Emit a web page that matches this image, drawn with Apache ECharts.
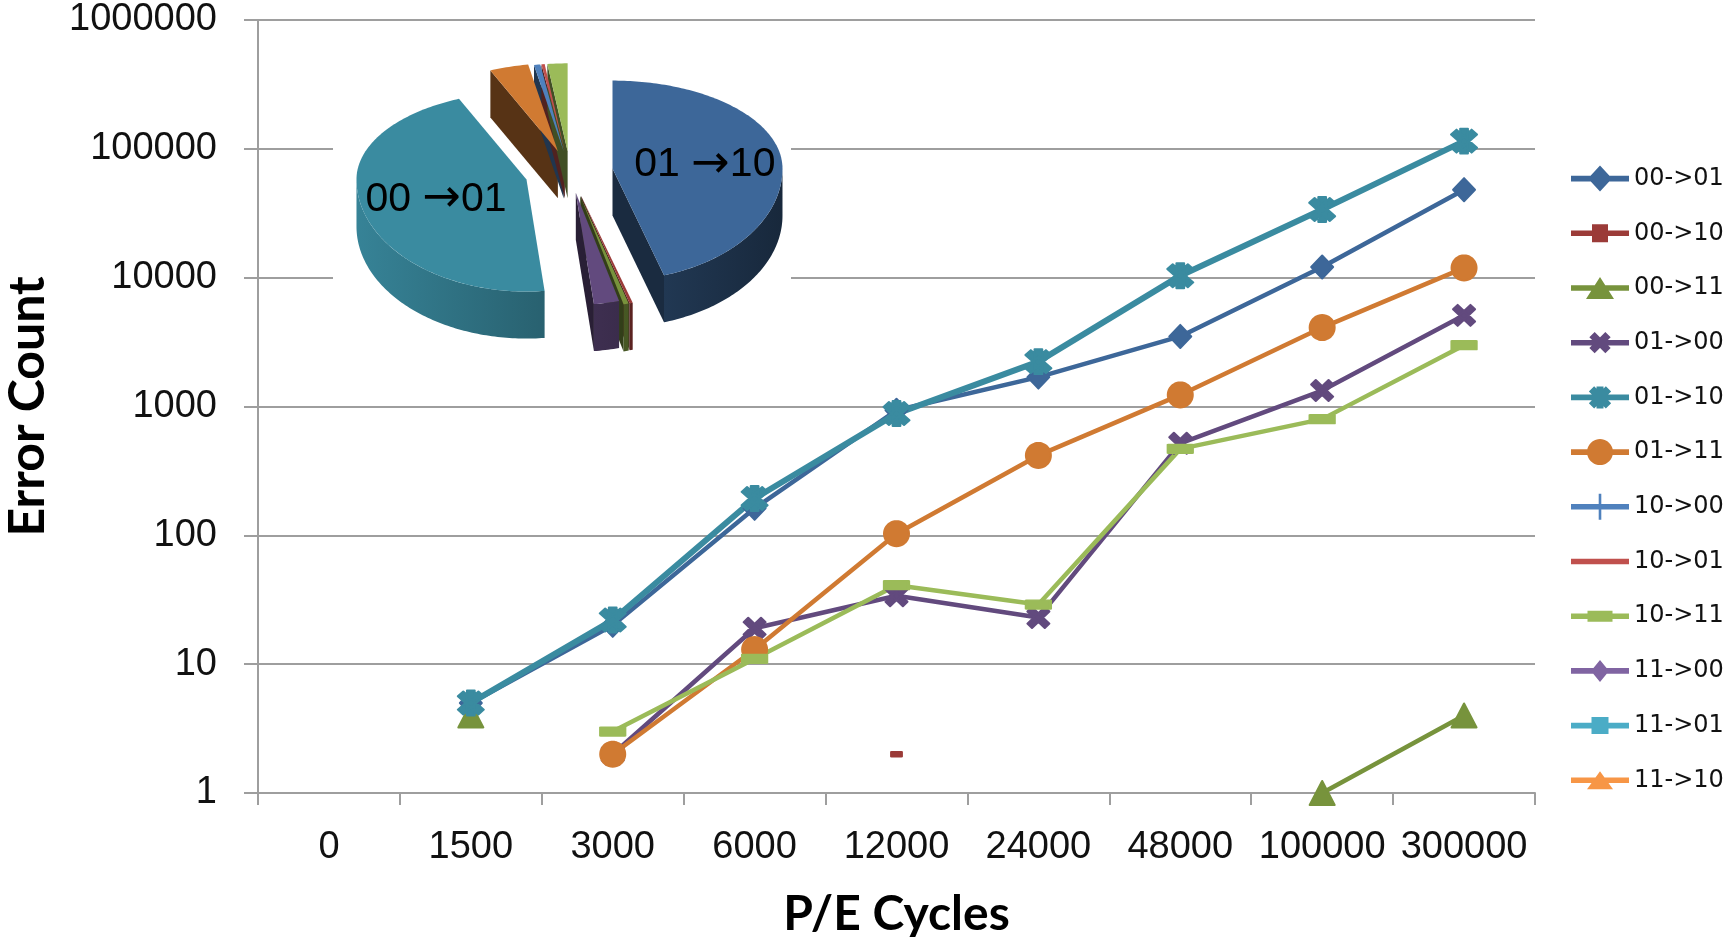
<!DOCTYPE html>
<html><head><meta charset="utf-8">
<script src="https://cdn.jsdelivr.net/npm/echarts@6/dist/echarts.min.js"></script>
<style>html,body{margin:0;padding:0;background:#fff}#c{width:1729px;height:937px}</style>
</head><body><div id="c"></div>
<script>
// ---------------- DATA ----------------
const categories = ['0', '1500', '3000', '6000', '12000', '24000', '48000', '100000', '300000'];
const seriesNames = ['00->01', '00->10', '00->11', '01->00', '01->10', '01->11', '10->00', '10->01', '10->11', '11->00', '11->01', '11->10'];
const s0001 = [null, 5, 20, 162, 935, 1690, 3500, 12100, 48200];
const s0010 = [null, null, null, null, 2, null, null, null, null];
const s0011 = [null, 4, null, null, null, null, null, 1, 4];
const s0100 = [null, null, 2, 19, 34, 23, 518, 1330, 5100];
const s0110 = [null, 5, 22, 193, 881, 2230, 10360, 33800, 114800];
const s0111 = [null, null, 2, 13, 103, 417, 1230, 4100, 11900];
const s1000 = [null, null, null, null, null, null, null, null, null];
const s1001 = [null, null, null, null, null, null, null, null, null];
const s1011 = [null, null, 3, 11, 41, 29, 469, 798, 2990];
const s1100 = [null, null, null, null, null, null, null, null, null];
const s1101 = [null, null, null, null, null, null, null, null, null];
const s1110 = [null, null, null, null, null, null, null, null, null];
// pie (share of errors, percent), same order as seriesNames
const pieValues = [45.1, 0.3, 0.5, 2.4, 45.2, 3.7, 0.6, 0.3, 1.9, 0, 0, 0];
const pieLabels = ['01 \u219210', '', '', '', '00 \u219201', '', '', '', '', '', '', ''];

// ---------------- STYLE ----------------
const seriesData = [s0001, s0010, s0011, s0100, s0110, s0111, s1000, s1001, s1011, s1100, s1101, s1110];
const colors = ['#3D6799', '#9B3B38', '#77933C', '#624A7E', '#3A8BA0', '#D07A32', '#4F81BD', '#C0504D', '#9BBB59', '#8064A2', '#4BACC6', '#F79646'];
const lineWidths = [4.5, 4.5, 4.5, 4.5, 6, 4.5, 4, 4, 4.5, 4, 4, 4];

function shade(hex, f) {
  const n = parseInt(hex.slice(1), 16);
  const r = (n >> 16) & 255, g = (n >> 8) & 255, b = n & 255;
  return 'rgb(' + Math.round(r * f) + ',' + Math.round(g * f) + ',' + Math.round(b * f) + ')';
}
// marker polygons (centered at 0,0)
function mDiamond(w, h) { return [[[0, -h], [w, 0], [0, h], [-w, 0]]]; }
function mRect(w, h) { return [[[-w, -h], [w, -h], [w, h], [-w, h]]]; }
function mTri(w, h) { return [[[0, -h], [w, h], [-w, h]]]; }
function mX(h, t) {
  const k = t / 2 / Math.SQRT2;
  return [[[-h + k, -h - k], [h + k, h - k], [h - k, h + k], [-h - k, -h + k]],
          [[h + k, -h + k], [-h + k, h + k], [-h - k, h - k], [h - k, -h - k]]];
}
function mStar(h, t, a, b) { return mX(h, t).concat(mRect(a, b)); }
function mCircle(r) { const p = []; for (let k = 0; k < 40; k++) { const t = k / 40 * 2 * Math.PI; p.push([r * Math.cos(t), r * Math.sin(t)]); } return [p]; }
function mPlus(h, t) { return mRect(t, h).concat(mRect(h, t)); }
function toPath(polys) {
  return polys.map(p => 'M' + p.map(q => q[0].toFixed(2) + ',' + q[1].toFixed(2)).join('L') + 'Z').join('');
}
function shift(polys, dx, dy) { return polys.map(p => p.map(q => [q[0] + dx, q[1] + dy])); }

const chartMarkers = [mDiamond(10, 10), mRect(10, 10), mTri(10, 10), mX(8, 6), mStar(8, 6, 3, 11), mCircle(10), mPlus(10, 2), null, mRect(10, 10), mDiamond(10, 10), mRect(10, 10), mTri(10, 10)];
const chartSizes = [[22, 23], [10, 5], [25, 24], [22, 21], [26, 25], [25, 25], [18, 18], 1, [24, 9], [18, 18], [16, 16], [20, 18]];

const LW = 58, LH = 28;
const legendMarkers = [mDiamond(12, 13), mRect(8, 9), mTri(14, 11), mX(8, 7.5), mStar(8.5, 7.5, 3.5, 11), mCircle(13), mRect(1.3, 13), [], mRect(12.5, 5.5), mDiamond(9, 11), mRect(8.5, 8.5), mTri(13, 9)];
function legendIcon(polys) {
  const corners = [[[0, 0], [0.01, 0], [0.01, 0.01]], [[LW, LH], [LW - 0.01, LH], [LW - 0.01, LH - 0.01]]];
  const line = [[[0, LH / 2 - 2.8], [LW, LH / 2 - 2.8], [LW, LH / 2 + 2.8], [0, LH / 2 + 2.8]]];
  return 'path://' + toPath(corners.concat(line, shift(polys, LW / 2, LH / 2)));
}

// ---------------- PIE GEOMETRY (custom series) ----------------
const PIE = { cx: 570, cy: 172, rx: 170, ryB: 88, ryF: 112, depth: 47 };
const pieExplode = [43, 38, 38, 32, 45, 42, 40, 40, 40, 40, 40, 40];
const pieTotal = pieValues.reduce((a, b) => a + b, 0);
const pieCum = [0]; pieValues.forEach(v => pieCum.push(pieCum[pieCum.length - 1] + v));
function ryOf(c) { return c > 0 ? PIE.ryB : PIE.ryF; }
function P(C, th) { const s = Math.sin(th), c = Math.cos(th); return [C[0] + PIE.rx * s, C[1] - ryOf(c) * c]; }
function arcPts(C, a, b) {
  const n = Math.max(2, Math.ceil((b - a) / (Math.PI / 180)));
  const pts = []; for (let k = 0; k <= n; k++) pts.push(P(C, a + (b - a) * k / n));
  return pts;
}
function richLabel(s) {
  const parts = s.split('\u2192');
  return '{d|' + parts[0] + '}{a|\u2192}{d|' + parts[1] + '}';
}
function renderPie(params, api) {
  const i = params.dataIndex; const v = api.value(0);
  if (!(v > 0)) return { type: 'group', children: [] };
  const a0 = pieCum[i] / pieTotal * 2 * Math.PI, a1 = pieCum[i + 1] / pieTotal * 2 * Math.PI, m = (a0 + a1) / 2;
  const e = pieExplode[i];
  const C = [PIE.cx + e * Math.sin(m), PIE.cy - e * Math.cos(m) * ryOf(Math.cos(m)) / PIE.rx];
  const D = PIE.depth; const col = colors[i];
  const down = p => [p[0], p[1] + D];
  const ch = [];
  if (Math.sin(a0) < -1e-6) { const p = P(C, a0); ch.push({ type: 'polygon', z2: 1, shape: { points: [C, p, down(p), down(C)] }, style: { fill: shade(col, 0.42) } }); }
  if (Math.sin(a1) > 1e-6) { const p = P(C, a1); ch.push({ type: 'polygon', z2: 1, shape: { points: [C, p, down(p), down(C)] }, style: { fill: shade(col, 0.42) } }); }
  const w0 = Math.max(a0, Math.PI / 2), w1 = Math.min(a1, 1.5 * Math.PI);
  if (w1 > w0) {
    const top = arcPts(C, w0, w1); const bot = top.map(down).reverse();
    ch.push({ type: 'polygon', z2: 2, shape: { points: top.concat(bot) },
      style: { fill: new echarts.graphic.LinearGradient(PIE.cx - PIE.rx - 50, 0, PIE.cx + PIE.rx + 50, 0,
        [{ offset: 0, color: shade(col, 0.95) }, { offset: 1, color: shade(col, 0.38) }], true) } });
  }
  ch.push({ type: 'polygon', z2: 3, shape: { points: [C].concat(arcPts(C, a0, a1)) }, style: { fill: col } });
  if (pieLabels[i]) {
    const lx = C[0] + 0.55 * PIE.rx * Math.sin(m);
    const ly = C[1] - 0.55 * ryOf(Math.cos(m)) * Math.cos(m) + 4;
    ch.push({ type: 'text', z2: 10, style: {
      text: richLabel(pieLabels[i]), x: lx, y: ly, align: 'center', verticalAlign: 'middle',
      rich: {
        d: { fill: '#000', fontSize: 41, fontFamily: 'Liberation Sans' },
        a: { fill: '#000', fontSize: 46, fontFamily: 'DejaVu Sans' }
      } } });
  }
  return { type: 'group', children: ch };
}

// ---------------- CHART ----------------
const chart = echarts.init(document.getElementById('c'), null, { renderer: 'canvas' });
const axisGray = '#9E9E9E';
const series = seriesNames.map((n, i) => ({
  name: n, type: 'line', data: seriesData[i],
  symbol: chartMarkers[i] ? 'path://' + toPath(chartMarkers[i]) : 'none',
  symbolSize: chartSizes[i], showSymbol: true, showAllSymbol: true, connectNulls: false,
  lineStyle: { color: colors[i], width: lineWidths[i], join: 'round', cap: 'round' },
  itemStyle: { color: colors[i], borderColor: colors[i], borderWidth: 2, borderJoin: 'round' },
  emphasis: { disabled: true }, z: 3
}));
series.push({ type: 'custom', name: 'pie', coordinateSystem: 'none', silent: true, z: 5,
  data: pieValues.map(v => [v]), renderItem: renderPie });

chart.setOption({
  animation: false,
  backgroundColor: '#fff',
  grid: { left: 258, right: 194, top: 20, bottom: 144, containLabel: false, outerBoundsMode: 'none' },
  graphic: [{ type: 'rect', left: 333, top: 42, shape: { width: 458, height: 333 }, style: { fill: '#fff' }, z: 1, silent: true }],
  legend: {
    orient: 'vertical', left: 1571, top: 164.6, itemWidth: LW, itemHeight: LH, itemGap: 26.7, padding: 0,
    data: seriesNames.map((n, i) => ({ name: n, icon: legendIcon(legendMarkers[i]) })),
    textStyle: { fontFamily: 'DejaVu Sans', fontSize: 24, color: '#111', lineHeight: 28 },
    itemStyle: { borderWidth: 0 }, selectedMode: false
  },
  xAxis: {
    type: 'category', data: categories, boundaryGap: true,
    axisLine: { show: true, onZero: false, lineStyle: { color: axisGray, width: 2 } },
    axisTick: { show: true, length: 12, lineStyle: { color: axisGray, width: 2 } },
    axisLabel: { margin: 36, fontSize: 38, fontFamily: 'Liberation Sans', color: '#111', interval: 0 },
    splitLine: { show: false },
    name: 'P/E Cycles', nameLocation: 'middle', nameGap: 98,
    nameTextStyle: { fontFamily: 'Lato', fontWeight: 'bold', fontSize: 48, color: '#000', lineHeight: 48 }
  },
  yAxis: {
    type: 'log', logBase: 10, min: 1, max: 1000000,
    axisLine: { show: true, lineStyle: { color: axisGray, width: 2 } },
    axisTick: { show: true, length: 14, lineStyle: { color: axisGray, width: 2 } },
    axisLabel: { margin: 41, fontSize: 38, fontFamily: 'Liberation Sans', color: '#111', formatter: v => String(Math.round(v)) },
    splitLine: { show: true, lineStyle: { color: axisGray, width: 2 } },
    minorTick: { show: false }, minorSplitLine: { show: false },
    name: 'Error Count', nameLocation: 'middle', nameRotate: 90, nameGap: 205,
    nameTextStyle: { fontFamily: 'Lato', fontWeight: 'bold', fontSize: 50, color: '#000', lineHeight: 50 }
  },
  series: series
});
</script>
</body></html>
